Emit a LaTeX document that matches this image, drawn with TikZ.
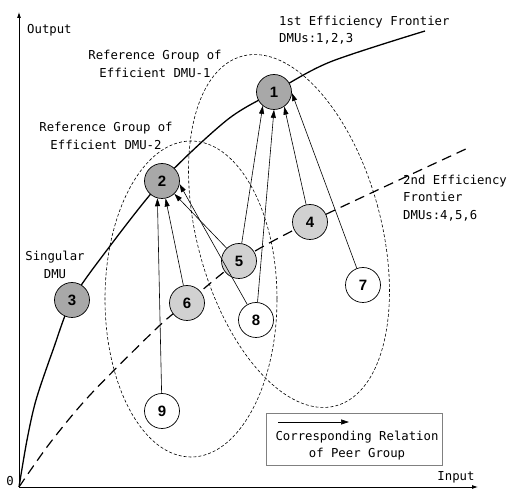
\documentclass[tikz,border=0pt]{standalone}
\usepackage{fontspec}
\newfontfamily\monofont{DejaVu Sans Mono}
\newfontfamily\digitfont{Liberation Sans}
\usetikzlibrary{arrows.meta,backgrounds}
\definecolor{effgray}{gray}{0.66}
\definecolor{semigray}{gray}{0.82}
\tikzset{
dmu/.style={circle,draw,line width=0.7pt,minimum size=35pt,inner sep=0pt,
  font=\digitfont\bfseries\fontsize{15}{15}\selectfont},
eff/.style={dmu,fill=effgray},
semi/.style={dmu,fill=semigray},
ineff/.style={dmu,fill=white},
peer/.style={line width=0.6pt,-{Triangle[length=8pt,width=5pt]}},
axis/.style={line width=0.8pt,-{Latex[length=6pt,width=4pt]}},
group/.style={dash pattern=on 3pt off 2pt,line width=0.6pt},
lbl/.style={font=\monofont\fontsize{12.3}{17.5}\selectfont,inner sep=0pt,align=center}
}
\newcommand{\dmu}[4]{%
\node[#4] (d#1) at (#2,#3) {#1};
}

\begin{document}
\begin{tikzpicture}[x=1pt,y=-1pt]
\useasboundingbox (0,0) rectangle (507,489);

% axes
\coordinate (o) at (19,487);
\coordinate (ytop) at (19,12);
\coordinate (xend) at (478,487);
\draw[axis] (o) -- (ytop);
\draw[axis] (o) -- (xend);
\node[lbl,anchor=west] (output) at (27,30) {Output};
\node[lbl] (input) at (456,477) {Input};
\node[lbl] (zero) at (10,481) {0};

% DMUs
\dmu{1}{274}{92}{eff}
\dmu{2}{162}{181}{eff}
\dmu{3}{72}{300}{eff}
\dmu{4}{310}{222}{semi}
\dmu{5}{239}{261}{semi}
\dmu{6}{187}{303}{semi}
\dmu{7}{363}{285}{ineff}
\dmu{8}{256}{320}{ineff}
\dmu{9}{162}{411}{ineff}

% frontiers and reference groups
\begin{scope}[on background layer]
\draw[line width=1.3pt] plot[smooth] coordinates
  {(o) (27,440) (36,400) (53,350) (d3) (107,250) (d2) (227,120) (d1) (330,62) (425,31)};
\draw[line width=1.2pt,dash pattern=on 10pt off 6pt] plot[smooth] coordinates
  {(o) (50,443) (90,395) (158,327) (d6) (d5) (d4) (468,148)};
\draw[group,rotate around={15:(289,231)}] (289,231) ellipse [x radius=92pt,y radius=181pt];
\draw[group] (191,299) ellipse [x radius=86pt,y radius=158pt];
\end{scope}

% peer relations
\draw[peer] (d9) -- (d2.255);
\draw[peer] (d6) -- (d2);
\draw[peer] (d5) -- (d2);
\draw[peer] (d8) -- (d2.-10);
\draw[peer] (d5) -- (d1.231);
\draw[peer] (d8) -- (d1.270);
\draw[peer] (d4) -- (d1.-55);
\draw[peer] (d7) -- (d1.-3);

% labels
\node[lbl,anchor=west,align=left] (front1) at (279,30) {1st Efficiency Frontier\\DMUs:1,2,3};
\node[lbl,anchor=west,align=left] (front2) at (403,198) {2nd Efficiency\\Frontier\\DMUs:4,5,6};
\node[lbl] (ref1) at (155,64) {Reference Group of\\Efficient DMU-1};
\node[lbl] (ref2) at (106,136) {Reference Group of\\Efficient DMU-2};
\node[lbl] (singular) at (55,265) {Singular\\DMU};

% legend
\node[draw=gray,line width=0.6pt,minimum width=176pt,minimum height=52pt] (legend) at (354,439) {};
\coordinate (la) at (278,422);
\coordinate (lb) at (349,422);
\draw[peer] (la) -- (lb);
\node[lbl] (legtext) at (357,445.5) {Corresponding Relation\\of Peer Group};

\end{tikzpicture}
\end{document}
